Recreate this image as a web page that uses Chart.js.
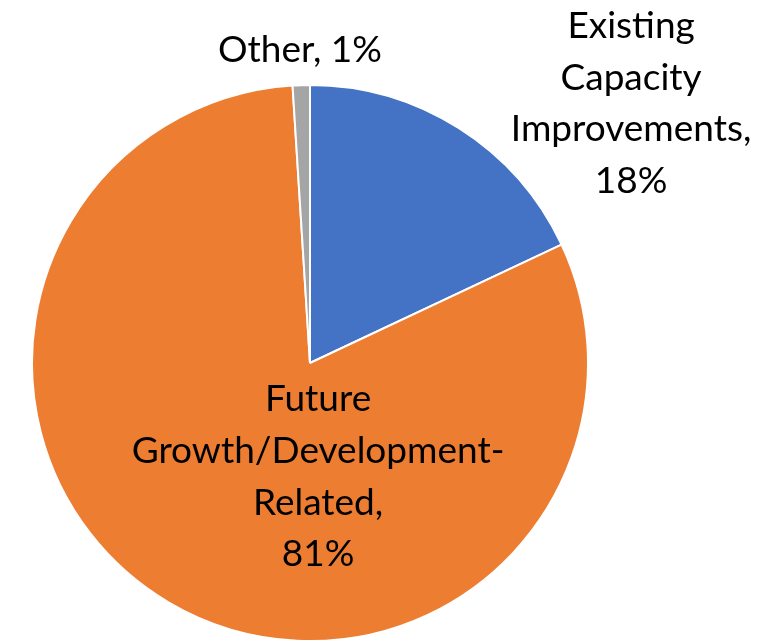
<!DOCTYPE html>
<html>
<head>
<meta charset="utf-8">
<script src="https://cdn.jsdelivr.net/npm/chart.js@4/dist/chart.umd.min.js"></script>
<style>
  html, body { margin: 0; padding: 0; background: #fff; }
  #wrap { width: 783px; height: 642px; }
</style>
</head>
<body>
<div id="wrap"><canvas id="myChart"></canvas></div>
<script>
// slices, clockwise from 12 o'clock
const categories = [
	['Existing', 'Capacity', 'Improvements'],
	['Future', 'Growth/Development-', 'Related'],
	['Other']
];
const shares = [18, 81, 1];
const sliceColors = ['#4472C4', '#ED7D31', '#A5A5A5'];

// where each label block sits, in radius units from the pie centre
const labelOffsets = [
	{ x: 1.155, y: -0.933 },
	{ x: 0.029, y: 0.41 },
	{ x: -0.036, y: -1.126 }
];

const sliceLabels = {
	id: 'sliceLabels',
	afterDatasetsDraw(chart) {
		const ctx = chart.ctx;
		const meta = chart.getDatasetMeta(0);
		const total = shares.reduce((a, b) => a + b, 0);
		const lineH = 51.7;
		ctx.save();
		ctx.font = '37px Lato';
		ctx.fillStyle = '#000';
		ctx.textAlign = 'center';
		ctx.textBaseline = 'middle';
		meta.data.forEach(function(arc, i) {
			const pct = Math.round(shares[i] / total * 100) + '%';
			let lines = categories[i].slice();
			if (lines.length == 1) {
				lines = [lines[0] + ', ' + pct];
			} else {
				lines[lines.length - 1] += ',';
				lines.push(pct);
			}
			const cx = arc.x + labelOffsets[i].x * arc.outerRadius;
			const cy = arc.y + labelOffsets[i].y * arc.outerRadius;
			const top = cy - (lines.length - 1) * lineH / 2;
			lines.forEach(function(t, j) {
				ctx.fillText(t, cx, top + j * lineH);
			});
		});
		ctx.restore();
	}
};

const ctx = document.getElementById('myChart');
const myChart = new Chart(ctx, {
	type: 'pie',
	data: {
		labels: categories,
		datasets: [{
			data: shares,
			backgroundColor: sliceColors,
			borderColor: '#fff',
			borderWidth: 2
		}]
	},
	options: {
		responsive: true,
		maintainAspectRatio: false,
		animation: false,
		layout: { padding: { left: 31, right: 194, top: 84, bottom: 0 } },
		plugins: {
			legend: { display: false },
			tooltip: { enabled: false }
		}
	},
	plugins: [sliceLabels]
});
</script>
</body>
</html>
